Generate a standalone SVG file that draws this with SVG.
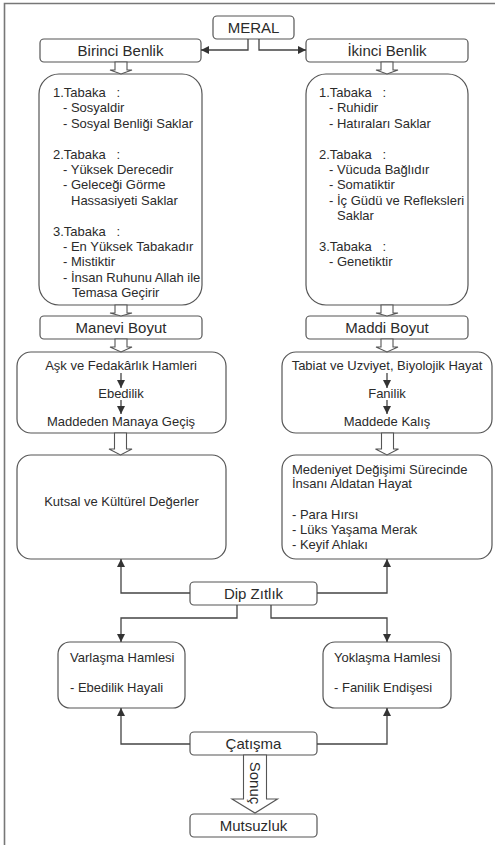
<svg xmlns="http://www.w3.org/2000/svg" width="495" height="845" viewBox="0 0 495 845">
<defs>
<marker id="ah" viewBox="0 0 10 10" refX="10" refY="5" markerWidth="8" markerHeight="8" markerUnits="userSpaceOnUse" orient="auto">
<path d="M0,0 L10,5 L0,10 z" fill="#333"/>
</marker>
<style>
text{font-family:"Liberation Sans",Arial,sans-serif;fill:#2b2b2b;white-space:pre}
.t15{font-size:15px;text-anchor:middle}
.t13{font-size:13px}
.c{text-anchor:middle}
.box{fill:#fff;stroke:#555;stroke-width:1.2}
.conn{fill:none;stroke:#444;stroke-width:1.3}
.blk{fill:#fff;stroke:#555;stroke-width:1.1}
</style>
</defs>
<rect width="495" height="845" fill="#fff"/>
<path d="M4.5,845 V3.5 H495" fill="none" stroke="#777" stroke-width="1.6"/>

<g id="meral">
<rect class="box" x="213" y="16" width="81" height="23" rx="4"/>
<text class="t15" x="253.5" y="33">MERAL</text>
</g>
<g id="birinci-benlik">
<rect class="box" x="40" y="39" width="161" height="23" rx="4"/>
<text class="t15" x="120.5" y="56">Birinci Benlik</text>
</g>
<g id="ikinci-benlik">
<rect class="box" x="306" y="39" width="162" height="23" rx="4"/>
<text class="t15" x="387" y="56">İkinci Benlik</text>
</g>

<g id="birinci-tabakalar">
<rect class="box" x="39" y="74" width="163" height="231" rx="20"/>
<text class="t13" x="53" y="97">1.Tabaka   :</text>
<text class="t13" x="63" y="112.4">- Sosyaldir</text>
<text class="t13" x="63" y="127.8">- Sosyal Benliği Saklar</text>
<text class="t13" x="53" y="158.6">2.Tabaka   :</text>
<text class="t13" x="63" y="174">- Yüksek Derecedir</text>
<text class="t13" x="63" y="189.4">- Geleceği Görme</text>
<text class="t13" x="71" y="204.8">Hassasiyeti Saklar</text>
<text class="t13" x="53" y="235.6">3.Tabaka   :</text>
<text class="t13" x="63" y="251">- En Yüksek Tabakadır</text>
<text class="t13" x="63" y="266.4">- Mistiktir</text>
<text class="t13" x="63" y="281.8">- İnsan Ruhunu Allah ile</text>
<text class="t13" x="72" y="297.2">Temasa Geçirir</text>
</g>

<g id="ikinci-tabakalar">
<rect class="box" x="306" y="74" width="162" height="231" rx="20"/>
<text class="t13" x="319" y="97">1.Tabaka   :</text>
<text class="t13" x="329" y="112.4">- Ruhidir</text>
<text class="t13" x="329" y="127.8">- Hatıraları Saklar</text>
<text class="t13" x="319" y="158.6">2.Tabaka   :</text>
<text class="t13" x="329" y="174">- Vücuda Bağlıdır</text>
<text class="t13" x="329" y="189.4">- Somatiktir</text>
<text class="t13" x="329" y="204.8">- İç Güdü ve Refleksleri</text>
<text class="t13" x="337" y="220.2">Saklar</text>
<text class="t13" x="319" y="251">3.Tabaka   :</text>
<text class="t13" x="329" y="266.4">- Genetiktir</text>
</g>

<g id="manevi-boyut">
<rect class="box" x="40" y="316" width="162" height="23" rx="4"/>
<text class="t15" x="121" y="333">Manevi Boyut</text>
</g>
<g id="maddi-boyut">
<rect class="box" x="306" y="316" width="162" height="23" rx="4"/>
<text class="t15" x="387" y="333">Maddi Boyut</text>
</g>

<g id="manevi-surec">
<rect class="box" x="17" y="352" width="209" height="81" rx="14"/>
<text class="t13 c" x="121" y="370">Aşk ve Fedakârlık Hamleri</text>
<text class="t13 c" x="121" y="397.5">Ebedilik</text>
<text class="t13 c" x="121" y="425.5">Maddeden Manaya Geçiş</text>
</g>
<g id="maddi-surec">
<rect class="box" x="282" y="352" width="210" height="81" rx="14"/>
<text class="t13 c" x="387" y="370">Tabiat ve Uzviyet, Biyolojik Hayat</text>
<text class="t13 c" x="387" y="397.5">Fanilik</text>
<text class="t13 c" x="387" y="425.5">Maddede Kalış</text>
</g>

<g id="kutsal">
<rect class="box" x="17" y="455" width="209" height="104" rx="14"/>
<text class="t13 c" x="121.5" y="506">Kutsal ve Kültürel Değerler</text>
</g>
<g id="medeniyet">
<rect class="box" x="282" y="455" width="210" height="104" rx="14"/>
<text class="t13" x="292" y="473.5">Medeniyet Değişimi Sürecinde</text>
<text class="t13" x="292" y="488">İnsanı Aldatan Hayat</text>
<text class="t13" x="292" y="519">- Para Hırsı</text>
<text class="t13" x="292" y="534">- Lüks Yaşama Merak</text>
<text class="t13" x="292" y="549">- Keyif Ahlakı</text>
</g>

<g id="dip-zitlik">
<rect class="box" x="190" y="582" width="127" height="23" rx="4"/>
<text class="t15" x="253.5" y="599">Dip Zıtlık</text>
</g>

<g id="varlasma">
<rect class="box" x="58" y="642" width="127" height="66" rx="12"/>
<text class="t13" x="70" y="662">Varlaşma Hamlesi</text>
<text class="t13" x="70" y="692">- Ebedilik Hayali</text>
</g>
<g id="yoklasma">
<rect class="box" x="323" y="642" width="128" height="66" rx="12"/>
<text class="t13" x="334" y="662">Yoklaşma Hamlesi</text>
<text class="t13" x="334" y="692">- Fanilik Endişesi</text>
</g>

<g id="catisma">
<rect class="box" x="190" y="732" width="127" height="23" rx="4"/>
<text class="t15" x="253.5" y="749">Çatışma</text>
</g>
<g id="mutsuzluk">
<rect class="box" x="190" y="814" width="127" height="23" rx="4"/>
<text class="t15" x="253.5" y="831">Mutsuzluk</text>
</g>

<g id="connectors">
<path class="conn" d="M248,39 V50 H201" marker-end="url(#ah)"/>
<path class="conn" d="M259,39 V50 H306" marker-end="url(#ah)"/>
<path class="conn" d="M121,373 V388" marker-end="url(#ah)"/>
<path class="conn" d="M121,400 V414" marker-end="url(#ah)"/>
<path class="conn" d="M387,373 V388" marker-end="url(#ah)"/>
<path class="conn" d="M387,400 V414" marker-end="url(#ah)"/>
<path class="conn" d="M190,593 H121 V559" marker-end="url(#ah)"/>
<path class="conn" d="M317,593 H387 V559" marker-end="url(#ah)"/>
<path class="conn" d="M237,605 V618 H121 V642" marker-end="url(#ah)"/>
<path class="conn" d="M271,605 V618 H387 V642" marker-end="url(#ah)"/>
<path class="conn" d="M190,744 H121 V708" marker-end="url(#ah)"/>
<path class="conn" d="M317,744 H387 V708" marker-end="url(#ah)"/>
<polygon class="blk" points="115,62 127,62 127,70 132,70 121,74 110,70 115,70"/>
<polygon class="blk" points="381,62 393,62 393,70 398,70 387,74 376,70 381,70"/>
<polygon class="blk" points="115,305 127,305 127,313 132,313 121,316 110,313 115,313"/>
<polygon class="blk" points="381,305 393,305 393,313 398,313 387,316 376,313 381,313"/>
<polygon class="blk" points="115,339 127,339 127,347 132,347 121,352 110,347 115,347"/>
<polygon class="blk" points="381,339 393,339 393,347 398,347 387,352 376,347 381,347"/>
<polygon class="blk" points="114.5,433 126.5,433 126.5,449 132,449 120.5,455 109,449 114.5,449"/>
<polygon class="blk" points="381.5,433 393.5,433 393.5,449 398.5,449 387,455 375.5,449 381.5,449"/>
<polygon class="blk" points="243.5,755 266.5,755 266.5,799 277.5,799 255,813 232,799 243.5,799"/>
<text class="t15" transform="translate(250,783) rotate(90)" style="text-anchor:middle">Sonuç</text>
</g>
</svg>
